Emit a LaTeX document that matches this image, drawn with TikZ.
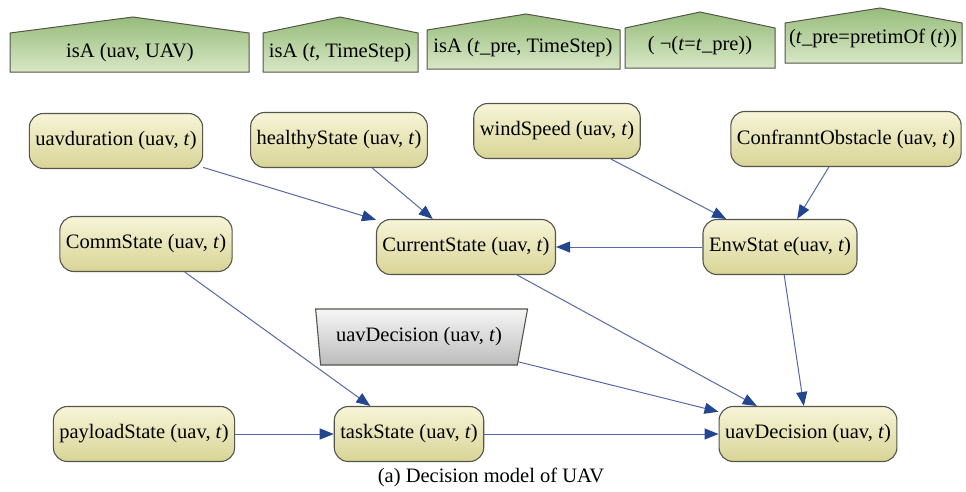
\documentclass[tikz,border=0pt]{standalone}
\usepackage{fontspec}
\setmainfont{Liberation Serif}
\newfontfamily\diagfont{Liberation Serif}
\usepackage{tikz}
\usetikzlibrary{shapes.geometric,arrows.meta}
\definecolor{leaf top}{RGB}{150,188,122}
\definecolor{leaf bottom}{RGB}{216,231,198}
\definecolor{straw top}{RGB}{247,245,216}
\definecolor{straw bottom}{RGB}{216,212,150}
\definecolor{ash top}{RGB}{246,246,246}
\definecolor{ash bottom}{RGB}{188,188,188}
\definecolor{rim gray}{RGB}{85,85,75}
\definecolor{link blue}{RGB}{85,105,165}
\definecolor{tip blue}{RGB}{35,70,145}
\newcommand{\tv}{\textit{t}}

\begin{document}
\begin{tikzpicture}[x=1pt, y=-1pt, font=\diagfont\fontsize{20.5}{24}\selectfont,
		roof/.style={draw=rim gray, line width=1pt, top color=leaf top, bottom color=leaf bottom},
		state/.style={draw=rim gray, line width=1.1pt, rounded corners=14pt,
			top color=straw top, bottom color=straw bottom, minimum height=55pt, inner xsep=6pt},
		choice/.style={draw=rim gray, line width=1.1pt, top color=ash top, bottom color=ash bottom,
			trapezium, shape border rotate=180, trapezium left angle=70, trapezium right angle=80,
			trapezium stretches=true, minimum width=212pt, minimum height=56pt, inner xsep=6pt},
		link/.style={draw=link blue, line width=1pt, -{Triangle[length=14pt, width=11pt, color=tip blue]}}]
		\useasboundingbox (0, 0) rectangle (966, 491);
		% facts on top
		\shade[roof] (10, 72) -- (10, 33) -- (133, 17) -- (249, 33) -- (249, 72) -- cycle;
		\node (isuav) at (130, 53) {isA (uav, UAV)};
		\shade[roof] (263, 72) -- (263, 33) -- (340, 17) -- (418, 33) -- (418, 72) -- cycle;
		\node (isstep) at (340, 53) {isA (\tv, TimeStep)};
		\shade[roof] (427, 69) -- (427, 30) -- (526, 14) -- (620, 30) -- (620, 69) -- cycle;
		\node (isprev) at (523, 48) {isA (\tv\_pre, TimeStep)};
		\shade[roof] (625, 68) -- (625, 28) -- (700, 12) -- (775, 28) -- (775, 68) -- cycle;
		\node (notsame) at (700, 46) {( \textlnot(\tv=\tv\_pre))};
		\shade[roof] (785, 63) -- (785, 23) -- (880, 8) -- (962, 23) -- (962, 63) -- cycle;
		\node (prevof) at (873, 38) {(\tv\_pre=pretimOf (\tv))};
		% states
		\node[state] (dur) at (116, 141) {uavduration (uav, \tv)};
		\node[state] (health) at (339, 140) {healthyState (uav, \tv)};
		\node[state] (wind) at (557, 131) {windSpeed (uav, \tv)};
		\node[state] (obstacle) at (846, 139) {ConfranntObstacle (uav, \tv)};
		\node[state] (comm) at (146, 244) {CommState (uav, \tv)};
		\node[state] (current) at (466, 247) {CurrentState (uav, \tv)};
		\node[state] (env) at (780, 247) {EnwStat e(uav, \tv)};
		\node[choice] (vote) at (419, 337) {uavDecision (uav, \tv)};
		\node[state] (payload) at (144, 434) {payloadState (uav, \tv)};
		\node[state] (task) at (409, 434) {taskState (uav, \tv)};
		\node[state] (decision) at (808, 434) {uavDecision (uav, \tv)};
		% links
		\draw[link] (dur) -- (current);
		\draw[link] (health) -- (current);
		\draw[link] (wind) -- (env);
		\draw[link] (obstacle) -- (env);
		\draw[link] (env) -- (current);
		\draw[link] (comm) -- (task);
		\draw[link] (current) -- (decision);
		\draw[link] (vote) -- (decision);
		\draw[link] (env) -- (decision);
		\draw[link] (payload) -- (task);
		\draw[link] (task) -- (decision);
		\node (caption) at (491, 477) {(a) Decision model of UAV};
	\end{tikzpicture}
\end{document}
